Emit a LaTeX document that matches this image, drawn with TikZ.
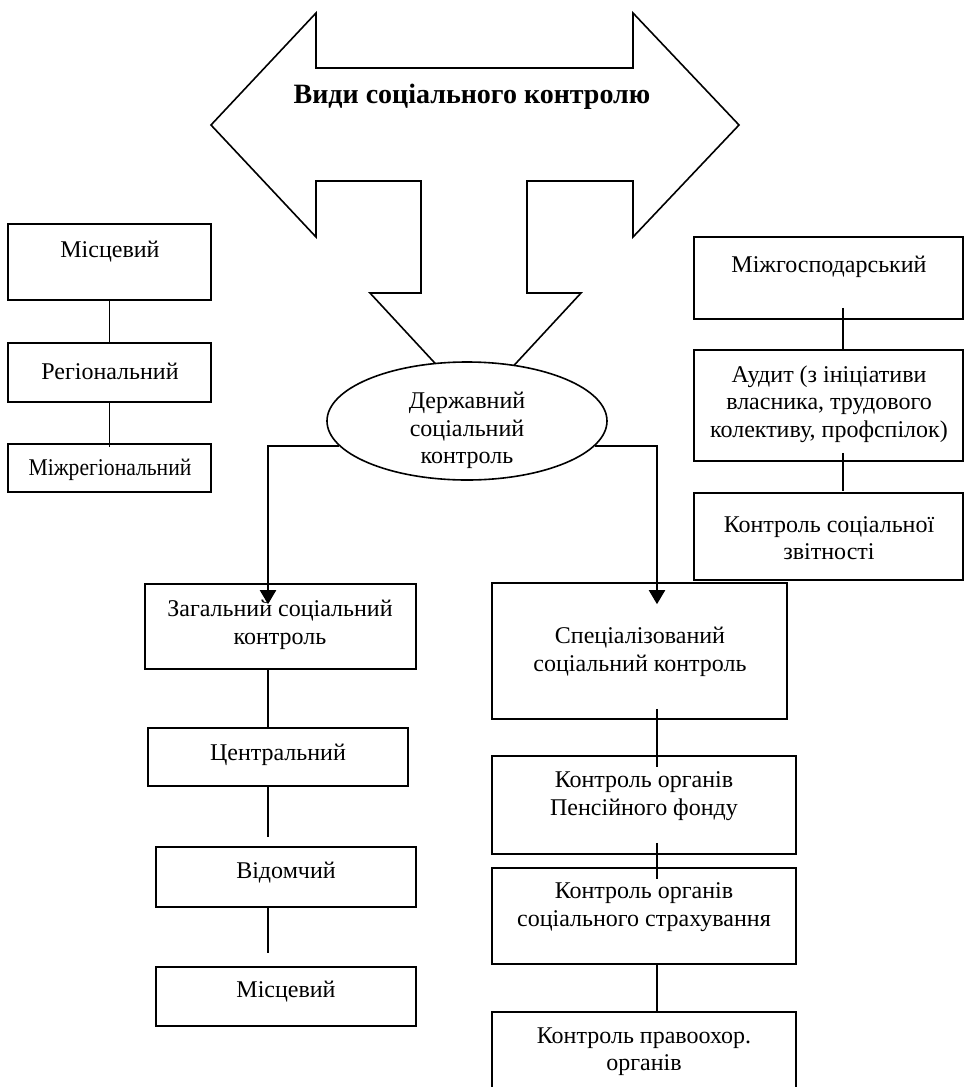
\documentclass[tikz,border=0pt]{standalone}
\usepackage{fontspec}
\setmainfont{Liberation Serif}
\usetikzlibrary{shapes.geometric,arrows.meta,calc}
\begin{document}
\begin{tikzpicture}[x=0.5pt,y=-0.5pt,
  box/.style={draw,line width=0.8pt,inner sep=0pt},
  txt/.style={align=center,inner sep=0pt,font=\fontsize{12}{13.8}\selectfont},
  conn/.style={line width=0.6pt},
  arr/.style={line width=1pt,-{Triangle[width=8pt,length=7pt]}},
  bigarrow/.style={draw,line width=0.8pt,line join=miter,fill=white}]
\useasboundingbox (0,0) rectangle (964,1087);

% big double arrow with downward arrow
\draw[bigarrow] (211,125) -- (316,13) -- (316,68) -- (633,68) -- (633,13) -- (739,125)
  -- (633,237) -- (633,181) -- (527,181) -- (527,293) -- (581,293) -- (475.5,407)
  -- (370,293) -- (421,293) -- (421,181) -- (316,181) -- (316,237) -- cycle;
\node[inner sep=0pt,font=\fontsize{14}{16}\selectfont\bfseries] (title) at (472,97) {Види соціального контролю};

% ellipse
\node[draw,ellipse,line width=0.8pt,fill=white,minimum width=140pt,minimum height=59pt,inner sep=0pt] (E) at (467,421) {};
\node[txt] (tE) at (467,430.5) {Державний\\соціальний\\контроль};

% left column
\node[box,minimum width=101.5pt,minimum height=38pt] (L1) at (109.5,262) {};
\node[txt] (tL1) at (110,252) {Місцевий};
\node[box,minimum width=101.5pt,minimum height=29.5pt] (L2) at (109.5,372.5) {};
\node[txt] (tL2) at (110,371) {Регіональний};
\node[box,minimum width=101.5pt,minimum height=24pt] (L3) at (109.5,468) {};
\node[txt] (tL3) at (110,470) {\scalebox{0.9}[1]{Міжрегіональний}};

% right column
\node[box,minimum width=134.5pt,minimum height=41pt] (R1) at (828.5,278) {};
\node[txt] (tR1) at (829,267) {Міжгосподарський};
\node[box,minimum width=134.5pt,minimum height=55.5pt] (R2) at (828.5,405.5) {};
\node[txt] (tR2) at (829,404) {Аудит (з ініціативи\\власника, трудового\\колективу, профспілок)};
\node[box,minimum width=134.5pt,minimum height=43.5pt] (R3) at (828.5,536.5) {};
\node[txt] (tR3) at (829,538) {Контроль соціальної\\звітності};

% bottom-left column
\node[box,minimum width=135.5pt,minimum height=42.5pt] (B1) at (280.5,626.5) {};
\node[txt] (tB1) at (280,625) {Загальний соціальний\\контроль};
\node[box,minimum width=130pt,minimum height=29pt] (B2) at (278,757) {};
\node[txt] (tB2) at (278,755) {Центральний};
\node[box,minimum width=130pt,minimum height=30pt] (B3) at (286,877) {};
\node[txt] (tB3) at (286,873) {Відомчий};
\node[box,minimum width=130pt,minimum height=29.5pt] (B4) at (286,996.5) {};
\node[txt] (tB4) at (286,992) {Місцевий};

% bottom-right column
\node[box,minimum width=147.5pt,minimum height=68pt] (S1) at (639.5,651) {};
\node[txt] (tS1) at (640,652) {Спеціалізований\\соціальний контроль};
\node[box,minimum width=152pt,minimum height=49pt] (S2) at (644,805) {};
\node[txt] (tS2) at (644,796) {Контроль органів\\Пенсійного фонду};
\node[box,minimum width=152pt,minimum height=48pt] (S3) at (644,916) {};
\node[txt] (tS3) at (644,907) {Контроль органів\\соціального страхування};
\node[box,minimum width=152pt,minimum height=44pt] (S4) at (644,1056) {};
\node[txt] (tS4) at (644,1051.5) {Контроль правоохор.\\органів};

% branch lines
\coordinate (lb) at (268,447);
\coordinate (rb) at (657,447);
\draw[arr] (E.191) -| ([yshift=-10.5pt]B1.north -| lb);
\draw[arr] (E.-11) -| ([yshift=-11pt]S1.north -| rb);

% connectors
\draw[conn] (L1.south) -- (L2.north);
\draw[conn] (L2.south) -- ([yshift=-2pt]L3.north);
\draw[conn] ([xshift=7.25pt,yshift=6pt]R1.south) -- ([xshift=7.25pt]R2.north);
\draw[conn] ([xshift=7.25pt,yshift=4.5pt]R2.south) -- ([xshift=7.25pt,yshift=0.5pt]R3.north);
\draw[conn] (B1.south -| lb) -- (B2.north -| lb);
\draw[conn] (B2.south -| lb) -- ([yshift=4.5pt]B3.north -| lb);
\draw[conn] (B3.south -| lb) -- ([yshift=6.5pt]B4.north -| lb);
\draw[conn] ([yshift=5.5pt]S1.south -| rb) -- ([yshift=-6pt]S2.north -| rb);
\draw[conn] ([yshift=6pt]S2.south -| rb) -- ([yshift=-6pt]S3.north -| rb);
\draw[conn] (S3.south -| rb) -- (S4.north -| rb);
\end{tikzpicture}
\end{document}
